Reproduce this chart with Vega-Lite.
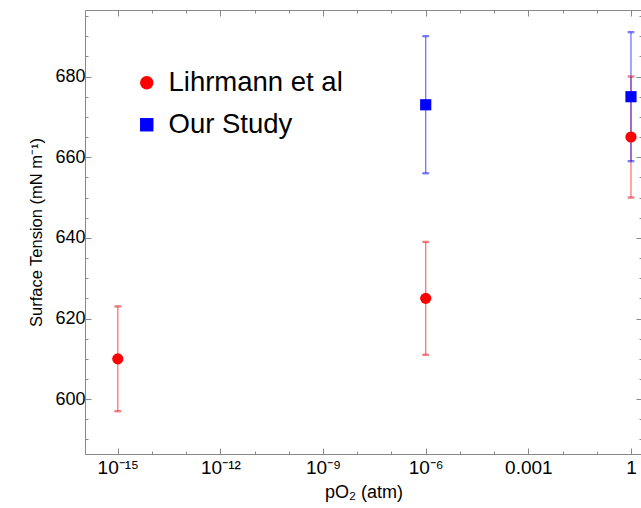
{
  "$schema": "https://vega.github.io/schema/vega-lite/v6.json",
  "width": 557,
  "height": 444,
  "autosize": {"type": "none"},
  "padding": {"left": 85, "top": 10, "right": 0, "bottom": 54},
  "background": "white",
  "config": {
    "view": {"stroke": null},
    "font": "Liberation Sans",
    "axis": {
      "domainColor": "#888888",
      "tickColor": "#888888",
      "labelColor": "#000000",
      "titleColor": "#000000",
      "labelFont": "Liberation Sans",
      "titleFont": "Liberation Sans",
      "grid": false,
      "titleFontWeight": "normal",
      "labelFontSize": 18,
      "titleFontSize": 16.5
    },
    "legend": {"labelFont": "Liberation Sans"}
  },
  "data": {
    "values": [
      {"series": "Lihrmann et al", "pO2": 1e-15, "tension": 610, "lo": 597, "hi": 623},
      {"series": "Lihrmann et al", "pO2": 1e-6, "tension": 625, "lo": 611, "hi": 639},
      {"series": "Lihrmann et al", "pO2": 1, "tension": 665, "lo": 650, "hi": 680},
      {"series": "Our Study", "pO2": 1e-6, "tension": 673, "lo": 656, "hi": 690},
      {"series": "Our Study", "pO2": 1, "tension": 675, "lo": 659, "hi": 691}
    ]
  },
  "resolve": {"axis": {"x": "independent", "y": "independent"}},
  "layer": [
    {
      "mark": {"type": "rule", "opacity": 0.55, "strokeWidth": 1.3},
      "encoding": {
        "x": {
          "field": "pO2", "type": "quantitative",
          "scale": {"type": "log", "domain": [1.1e-16, 2.1], "nice": false},
          "axis": {
            "orient": "bottom",
            "values": [1e-15, 1e-12, 1e-9, 1e-6, 0.001, 1],
            "tickSize": -6,
            "labelPadding": 10,
            "labelFontSize": 19,
            "labelExpr": "datum.value < 1e-14 ? '10⁻¹⁵' : datum.value < 1e-11 ? '10⁻¹²' : datum.value < 1e-8 ? '10⁻⁹' : datum.value < 1e-5 ? '10⁻⁶' : datum.value < 0.01 ? '0.001' : '1'",
            "title": "pO₂ (atm)",
            "titleFontSize": 18,
            "titlePadding": 6
          }
        },
        "y": {
          "field": "lo", "type": "quantitative",
          "scale": {"domain": [586.4, 696.5], "nice": false, "zero": false},
          "axis": {
            "orient": "left",
            "values": [600, 620, 640, 660, 680],
            "tickSize": -6,
            "labelPadding": 6,
            "title": "Surface Tension (mN m⁻¹)",
            "titlePadding": 10
          }
        },
        "y2": {"field": "hi"},
        "stroke": {
          "field": "series", "type": "nominal",
          "scale": {"range": ["#ff0000", "#0000ff"]},
          "legend": null
        }
      }
    },
    {
      "mark": {"type": "tick", "orient": "horizontal", "size": 6, "thickness": 1.3, "opacity": 0.55},
      "encoding": {
        "x": {
          "field": "pO2", "type": "quantitative",
          "scale": {"type": "log", "domain": [1.1e-16, 2.1], "nice": false},
          "axis": {"orient": "top", "values": [1e-15, 1e-12, 1e-9, 1e-6, 0.001, 1], "tickSize": -6, "labels": false, "title": null}
        },
        "y": {
          "field": "lo", "type": "quantitative",
          "scale": {"domain": [586.4, 696.5], "nice": false, "zero": false},
          "axis": {"orient": "right", "values": [600, 620, 640, 660, 680], "tickSize": -6, "labels": false, "title": null}
        },
        "stroke": {"field": "series", "type": "nominal", "legend": null}
      }
    },
    {
      "mark": {"type": "tick", "orient": "horizontal", "size": 6, "thickness": 1.3, "opacity": 0.55},
      "encoding": {
        "x": {
          "field": "pO2", "type": "quantitative",
          "scale": {"type": "log", "domain": [1.1e-16, 2.1], "nice": false},
          "axis": {"orient": "bottom", "values": [1e-14, 1e-13, 1e-11, 1e-10, 1e-8, 1e-7, 1e-5, 1e-4, 0.01, 0.1], "tickSize": -3, "labels": false, "title": null, "domain": false}
        },
        "y": {
          "field": "hi", "type": "quantitative",
          "scale": {"domain": [586.4, 696.5], "nice": false, "zero": false},
          "axis": {"orient": "left", "values": [590, 595, 605, 610, 615, 625, 630, 635, 645, 650, 655, 665, 670, 675, 685, 690, 695], "tickSize": -3, "labels": false, "title": null, "domain": false}
        },
        "stroke": {"field": "series", "type": "nominal", "legend": null}
      }
    },
    {
      "mark": {"type": "point", "filled": true, "opacity": 1, "size": 125},
      "encoding": {
        "x": {
          "field": "pO2", "type": "quantitative",
          "scale": {"type": "log", "domain": [1.1e-16, 2.1], "nice": false},
          "axis": {"orient": "top", "values": [1e-14, 1e-13, 1e-11, 1e-10, 1e-8, 1e-7, 1e-5, 1e-4, 0.01, 0.1], "tickSize": -3, "labels": false, "title": null, "domain": false}
        },
        "y": {
          "field": "tension", "type": "quantitative",
          "scale": {"domain": [586.4, 696.5], "nice": false, "zero": false},
          "axis": {"orient": "right", "values": [590, 595, 605, 610, 615, 625, 630, 635, 645, 650, 655, 665, 670, 675, 685, 690, 695], "tickSize": -3, "labels": false, "title": null, "domain": false}
        },
        "color": {
          "field": "series", "type": "nominal",
          "scale": {"domain": ["Lihrmann et al", "Our Study"], "range": ["#ff0000", "#0000ff"]},
          "legend": {
            "orient": "none", "legendX": 48, "legendY": 59, "title": null,
            "labelFontSize": 27.5, "labelColor": "#000000", "symbolSize": 180, "labelLimit": 0,
            "labelOffset": 8, "rowPadding": 13, "symbolStrokeWidth": 0
          }
        },
        "shape": {
          "field": "series", "type": "nominal",
          "scale": {"domain": ["Lihrmann et al", "Our Study"], "range": ["circle", "square"]},
          "legend": {
            "orient": "none", "legendX": 48, "legendY": 59, "title": null,
            "labelFontSize": 27.5, "labelColor": "#000000", "symbolSize": 180, "labelLimit": 0,
            "labelOffset": 8, "rowPadding": 13, "symbolStrokeWidth": 0
          }
        }
      }
    }
  ]
}
